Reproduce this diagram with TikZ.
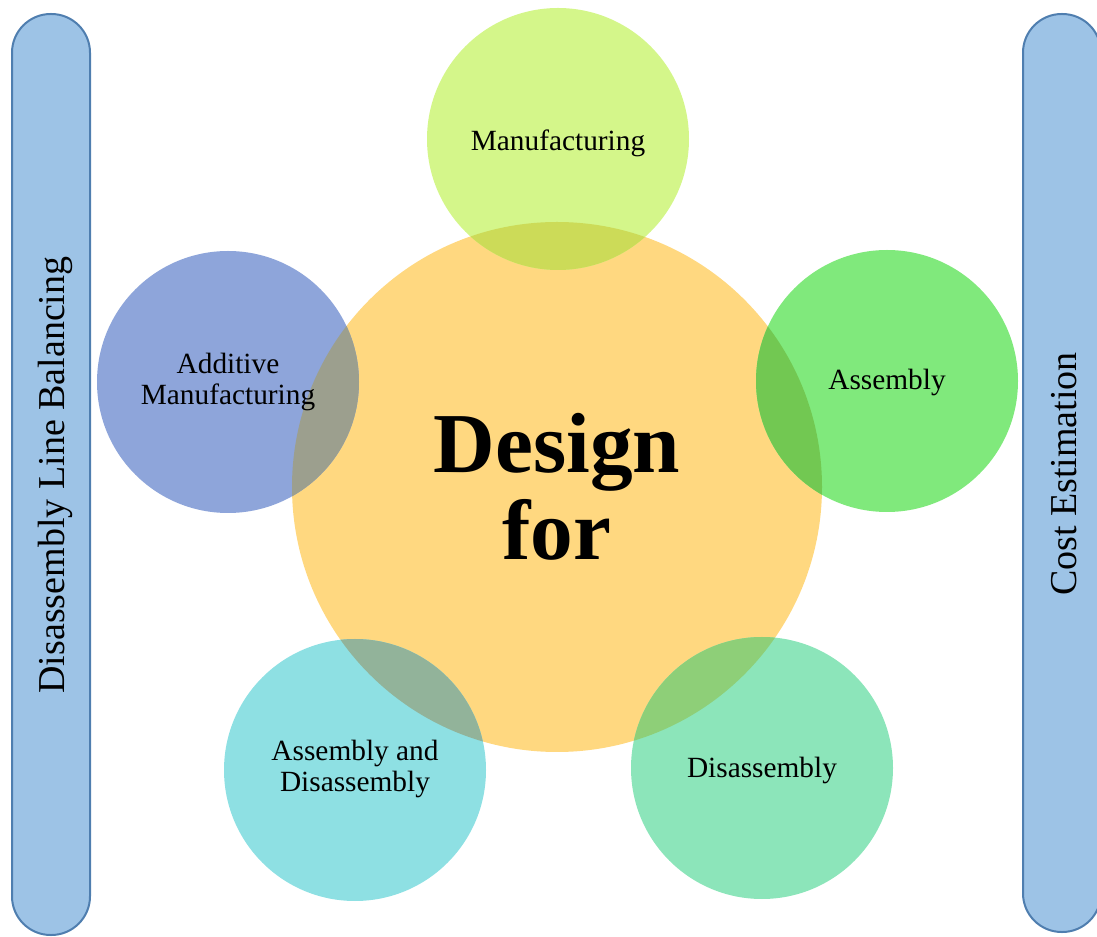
\documentclass[tikz,border=0pt]{standalone}
\usepackage{fontspec}
\setmainfont{Liberation Serif}
\definecolor{barfill}{HTML}{9DC3E6}
\definecolor{barline}{HTML}{4F7EAF}
\definecolor{cfill}{HTML}{FFD880}
\definecolor{manf}{HTML}{D4F68A}
\definecolor{asmf}{HTML}{80E97C}
\definecolor{addf}{HTML}{8EA5DA}
\definecolor{adf}{HTML}{8EE0E3}
\definecolor{disf}{HTML}{8CE5BA}
\definecolor{manov}{HTML}{CCDB58}
\definecolor{asmov}{HTML}{72C852}
\definecolor{addov}{HTML}{9C9F8E}
\definecolor{adov}{HTML}{92B39A}
\definecolor{disov}{HTML}{8ECF78}
\tikzset{
  bar/.style={draw=barline, line width=1.5pt, fill=barfill, rounded corners=29pt},
  small/.style={circle, minimum size=196.5pt, inner sep=0pt, align=center, font=\fontsize{22}{25}\selectfont},
  big/.style={circle, minimum size=397.5pt, inner sep=0pt, align=center, font=\fontsize{64}{66}\selectfont\bfseries},
  side/.style={font=\fontsize{28.5}{30}\selectfont, rotate=90}
}
\begin{document}
\begin{tikzpicture}[x=0.75pt,y=-0.75pt]
\useasboundingbox (0,0) rectangle (1097,937);
% bars
\draw[bar] (12,935) rectangle (90,14);
\draw[bar] (1023,932) rectangle (1101,14);
\node[side] (lbar) at (55,475) {Disassembly Line Balancing};
\node[side] (rbar) at (1064,474) {Cost Estimation};
% center
\node[big, fill=cfill] (ctr) at (557,487) {};
% small circles
\node[small, fill=manf] (man) at (558,139) {};
\node[small, fill=asmf] (asm) at (887,381) {};
\node[small, fill=addf] (add) at (228,382) {};
\node[small, fill=adf] (ad) at (355,770) {};
\node[small, fill=disf] (dis) at (762,768) {};
% overlaps
\begin{scope}
\clip (557,487) circle[radius=198.75pt];
\fill[manov] (558,139) circle[radius=98.25pt];
\fill[asmov] (887,381) circle[radius=98.25pt];
\fill[addov] (228,382) circle[radius=98.25pt];
\fill[adov] (355,770) circle[radius=98.25pt];
\fill[disov] (762,768) circle[radius=98.25pt];
\end{scope}
% labels
\node[font=\fontsize{22}{25}\selectfont] (manl) at (558,143) {Manufacturing};
\node[font=\fontsize{22}{25}\selectfont] (asml) at (887,382) {Assembly};
\node[font=\fontsize{22}{23}\selectfont, align=center] (addl) at (228,382) {Additive\\Manufacturing};
\node[font=\fontsize{22}{23}\selectfont, align=center] (adl) at (355,769) {Assembly and\\Disassembly};
\node[font=\fontsize{22}{25}\selectfont] (disl) at (762,770) {Disassembly};
\node[font=\fontsize{64}{65}\selectfont\bfseries, align=center] (ctrl) at (557,487) {Design\\for};
\end{tikzpicture}
\end{document}
